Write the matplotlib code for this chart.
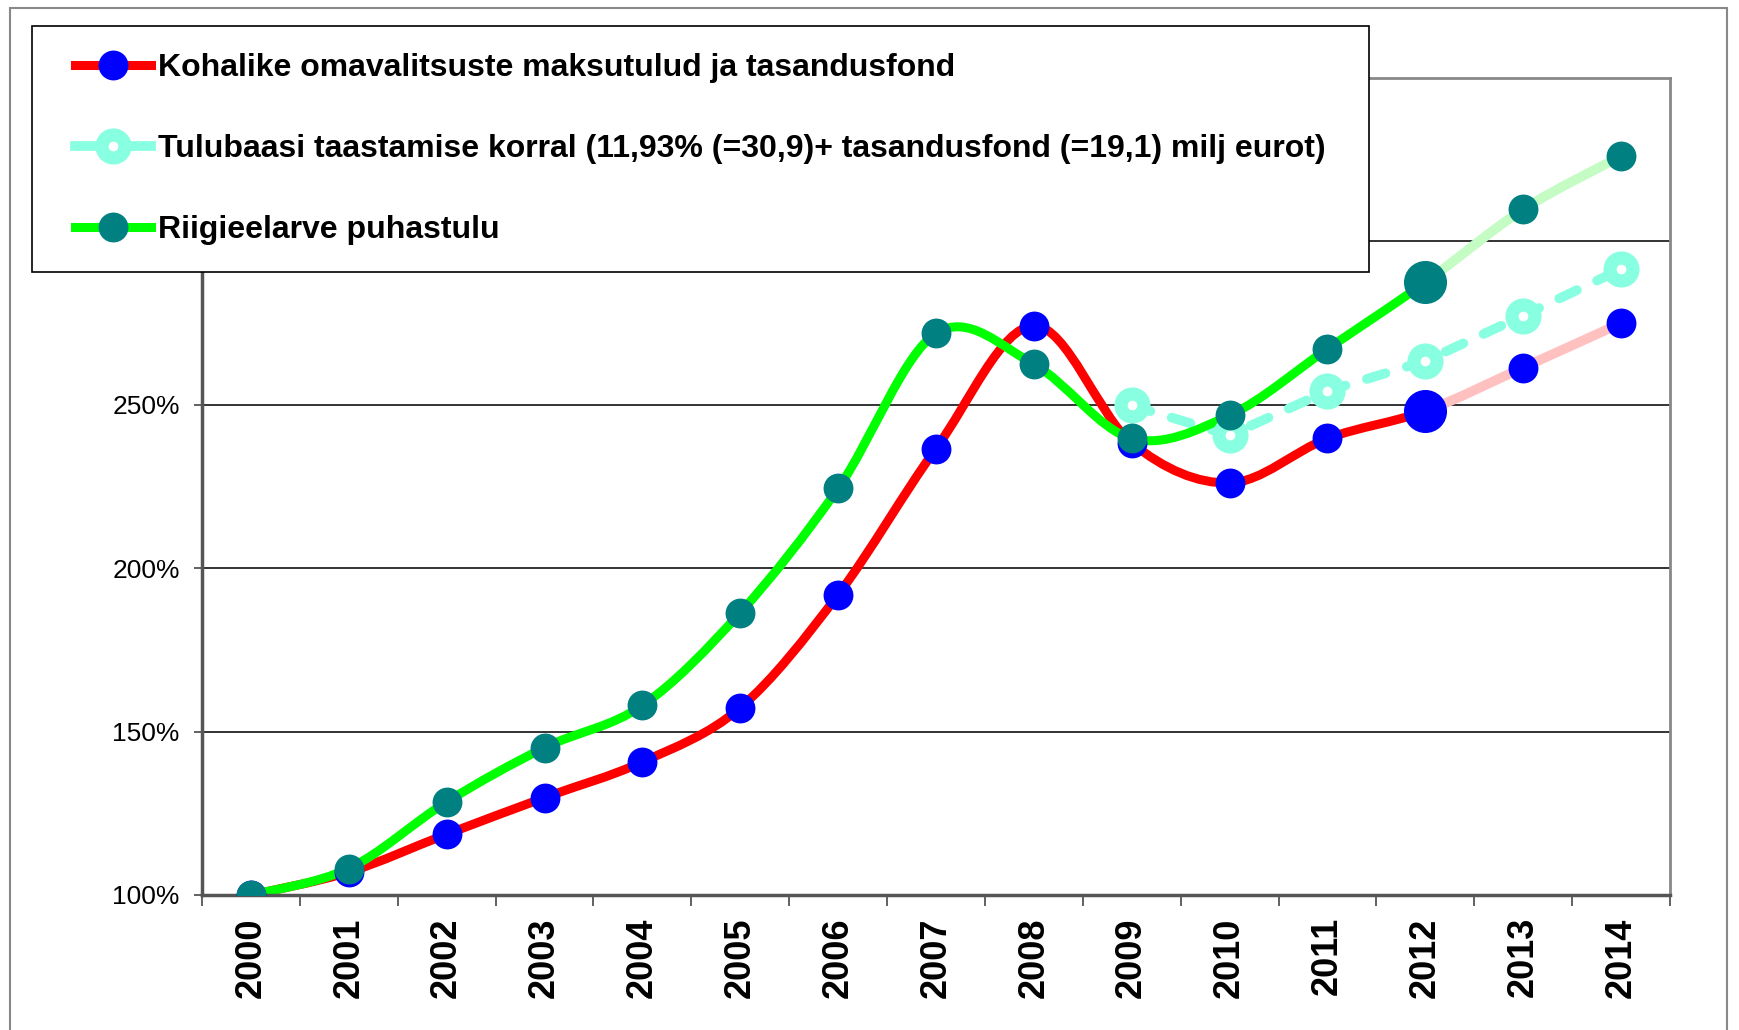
import numpy as np
import matplotlib.pyplot as plt
from matplotlib.path import Path
from matplotlib.patches import PathPatch, Rectangle
from matplotlib.lines import Line2D
from matplotlib.legend_handler import HandlerLine2D

plt.rcParams['font.family'] = ['Liberation Sans', 'DejaVu Sans']

# --------------------------------------------
# DATA (index, 2000 = 100%)
# --------------------------------------------
years = [str(y) for y in range(2000, 2015)]
kohalike = [100, 107, 118.6, 129.8, 140.7, 157.3, 191.9, 236.6, 274.2,
            238.3, 226.1, 239.7, 248.1, 261.4, 275.0]
riigieelarve = [100, 108.1, 128.5, 145.1, 158.0, 186.4, 224.4, 271.9, 262.4,
                239.7, 246.8, 267.1, 287.5, 309.8, 326.1]
tulubaasi_start = 9  # series starts at 2009
tulubaasi = [249.8, 240.7, 254.2, 263.4, 277.3, 291.5]

labels = ['Kohalike omavalitsuste maksutulud ja tasandusfond',
          'Tulubaasi taastamise korral (11,93% (=30,9)+ tasandusfond (=19,1) milj eurot)',
          'Riigieelarve puhastulu']
yticks = [100, 150, 200, 250, 300, 350]
# 300% and 350% sit under the legend box in the original
yticklabels = ['100%', '150%', '200%', '250%', '', '']


def smooth_path(x, y, i0, i1):
    # Excel-like smoothed line: cubic bezier segments through the points
    x = np.asarray(x, float)
    y = np.asarray(y, float)
    n = len(x)
    verts = [(x[i0], y[i0])]
    codes = [Path.MOVETO]
    for i in range(i0, i1):
        a = max(i - 1, 0)
        b = min(i + 2, n - 1)
        c1 = (x[i] + (x[i + 1] - x[a]) / 6, y[i] + (y[i + 1] - y[a]) / 6)
        c2 = (x[i + 1] - (x[b] - x[i]) / 6, y[i + 1] - (y[b] - y[i]) / 6)
        verts += [c1, c2, (x[i + 1], y[i + 1])]
        codes += [Path.CURVE4] * 3
    return Path(verts, codes)


class ShiftedHandler(HandlerLine2D):
    # legend handle pushed right, away from the frame edge
    def create_artists(self, legend, orig_handle, xdescent, ydescent,
                       width, height, fontsize, trans):
        off = 0.52 * fontsize
        return super().create_artists(legend, orig_handle, xdescent - off, ydescent,
                                      width - off, height, fontsize, trans)


fig = plt.figure(figsize=(17.39, 10.30), dpi=100)
ax = fig.add_axes([202 / 1739, 1 - 895 / 1030, (1670 - 202) / 1739, (895 - 78) / 1030])

xs = np.arange(len(years))
xt = xs[tulubaasi_start:]

# grid
for v in yticks[1:-1]:
    ax.axhline(v, color='#333333', lw=1.4, zorder=1)

# lines
ax.add_patch(PathPatch(smooth_path(xs, kohalike, 0, 12), fill=False,
                       edgecolor='#FF0000', lw=6.5, capstyle='round', zorder=2))
ax.add_patch(PathPatch(smooth_path(xs, kohalike, 12, 14), fill=False,
                       edgecolor='#FFC0C0', lw=7, capstyle='round', zorder=2))
ax.plot(xt, tulubaasi, color='#88FFE0', lw=7, dashes=(2.0, 2.3),
        dash_capstyle='round', zorder=2.1)
ax.add_patch(PathPatch(smooth_path(xs, riigieelarve, 0, 12), fill=False,
                       edgecolor='#00FF00', lw=6.5, capstyle='round', zorder=2.2))
ax.add_patch(PathPatch(smooth_path(xs, riigieelarve, 12, 14), fill=False,
                       edgecolor='#C4FCC4', lw=7, capstyle='round', zorder=2.2))

# markers
ax.plot(xs, kohalike, 'o', ms=21.5, mfc='#0000FF', mec='none', zorder=3)
ax.plot(xs[12], kohalike[12], 'o', ms=31, mfc='#0000FF', mec='none', zorder=3)
ax.plot(xt, tulubaasi, 'o', ms=16.5, mfc='white', mec='#88FFE0', mew=9.5, zorder=3.1)
ax.plot(xs, riigieelarve, 'o', ms=21.5, mfc='#008080', mec='none', zorder=3.2)
ax.plot(xs[12], riigieelarve[12], 'o', ms=31, mfc='#008080', mec='none', zorder=3.2)

# axes
ax.set_xlim(-0.5, len(years) - 0.5)
ax.set_ylim(100, 350)
ax.set_yticks(yticks)
ax.set_yticklabels(yticklabels, fontsize=19)
ax.set_xticks(xs)
ax.set_xticklabels(years, rotation=90, fontsize=26, fontweight='bold')
ax.set_xticks(np.arange(-0.5, len(years)), minor=True)
ax.tick_params(axis='x', which='major', length=0, pad=16)
ax.tick_params(axis='x', which='minor', length=8, width=1.3, color='#555555', direction='out')
ax.tick_params(axis='y', length=6, width=1.3, color='#555555', pad=10)
for s in ['left', 'bottom']:
    ax.spines[s].set_color('#555555')
    ax.spines[s].set_linewidth(2.5)
for s in ['top', 'right']:
    ax.spines[s].set_color('#888888')
    ax.spines[s].set_linewidth(2)

# outer chart border
fig.add_artist(Rectangle((10 / 1739, -0.01), (1727 - 10) / 1739, 1.01 - 8 / 1030,
                         transform=fig.transFigure, fill=False,
                         edgecolor='#888888', lw=1.5))

# legend
handles = [
    Line2D([], [], color='#FF0000', lw=6.5, marker='o', ms=21.5, mfc='#0000FF', mec='none'),
    Line2D([], [], color='#88FFE0', lw=7, marker='o', ms=16.5, mfc='white', mec='#88FFE0', mew=9.5),
    Line2D([], [], color='#00FF00', lw=6.5, marker='o', ms=21.5, mfc='#008080', mec='none'),
]
leg = fig.legend(handles, labels, loc='upper left',
                 bbox_to_anchor=(32 / 1739, 1 - 271 / 1030, (1369 - 32) / 1739, 245 / 1030),
                 mode='expand', borderaxespad=0, fancybox=False, framealpha=1,
                 edgecolor='black', prop={'weight': 'bold', 'size': 23},
                 handler_map={Line2D: ShiftedHandler()},
                 handlelength=2.88, handletextpad=0.22, labelspacing=1.6, borderpad=0.84)
leg.get_frame().set_linewidth(1.2)

fig.savefig('out.png', dpi=100)
